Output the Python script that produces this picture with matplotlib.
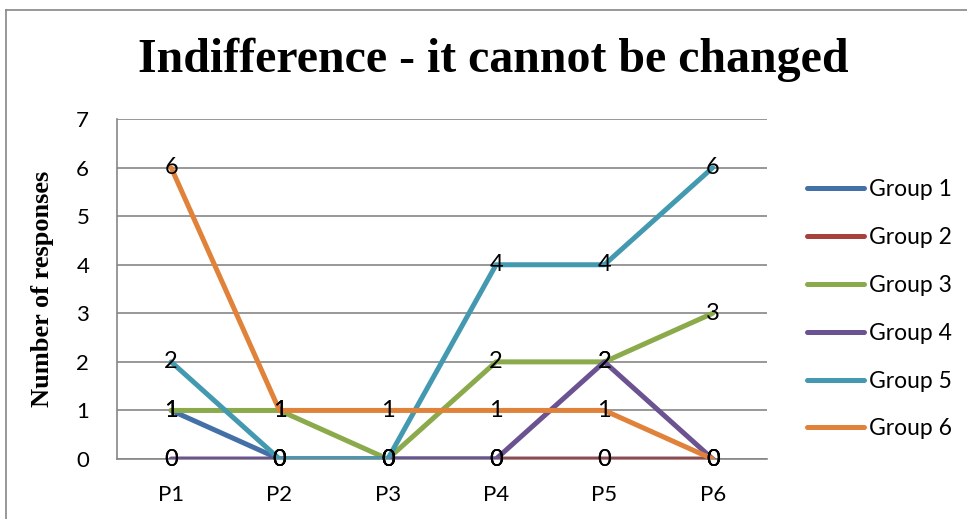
import matplotlib.pyplot as plt
from matplotlib.lines import Line2D

categories = ["P1", "P2", "P3", "P4", "P5", "P6"]
group1 = [1, 0, 0, 0, 0, 0]
group2 = [0, 0, 0, 0, 0, 0]
group3 = [1, 1, 0, 2, 2, 3]
group4 = [0, 0, 0, 0, 2, 0]
group5 = [2, 0, 0, 4, 4, 6]
group6 = [6, 1, 1, 1, 1, 0]
series_names = ["Group 1", "Group 2", "Group 3", "Group 4", "Group 5", "Group 6"]
colors = ["#4470A8", "#A8403C", "#8BAA4C", "#6B5290", "#4399B0", "#E0823A"]

fig = plt.figure(figsize=(9.67, 5.19), dpi=100)
ax = fig.add_axes([0.121, 0.1156, 0.672, 0.655])

x = list(range(len(categories)))
for name, vals, c in zip(series_names, [group1, group2, group3, group4, group5, group6], colors):
    ax.plot(x, vals, color=c, lw=3.6, label=name, zorder=3,
            solid_capstyle="round", solid_joinstyle="round")

for vals in [group1, group2, group3, group4, group5, group6]:
    for xi, v in zip(x, vals):
        ax.text(xi, v, str(v), ha="center", va="center", fontsize=17,
                family="Lato", color="black", zorder=5)

ax.set_xlim(-0.5, 5.5)
ax.set_ylim(0, 7)
ax.set_yticks(range(0, 8))
ax.set_xticks(x)
ax.set_xticklabels(categories)
ax.tick_params(axis="both", length=0, labelsize=16)
ax.tick_params(axis="x", pad=19)
ax.tick_params(axis="y", pad=20)
for lbl in ax.get_xticklabels() + ax.get_yticklabels():
    lbl.set_family("Lato")
ax.grid(axis="y", color="#868686", lw=1.2)
ax.set_axisbelow(True)
for s in ["top", "right"]:
    ax.spines[s].set_visible(False)
for s in ["left", "bottom"]:
    ax.spines[s].set_color("#868686")
    ax.spines[s].set_linewidth(1.2)

ax.set_ylabel("Number of responses", family="Liberation Serif", fontweight="bold",
              fontsize=19, labelpad=16)

fig.text(0.51, 0.885, "Indifference - it cannot be changed", ha="center", va="center",
         family="Liberation Serif", fontweight="bold", fontsize=34.5)

leg = ax.legend(loc="center left", bbox_to_anchor=(1.03, 0.44), frameon=False,
                handlelength=2.5, handletextpad=0.2, labelspacing=1.17,
                prop={"family": "Lato", "size": 16.5})

# chart outer border
fig.add_artist(Line2D([0.0062, 0.0062], [0.0, 0.981], color="#868686", lw=1.2))
fig.add_artist(Line2D([0.0062, 1.0], [0.981, 0.981], color="#868686", lw=1.2))

fig.savefig("out.png", dpi=100)
